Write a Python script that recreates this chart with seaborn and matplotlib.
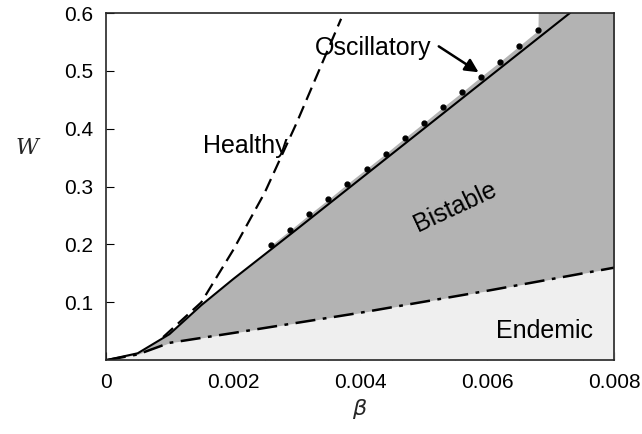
import numpy as np
import matplotlib
matplotlib.use("Agg")
import matplotlib.pyplot as plt
import seaborn as sns

solid_x = [0, 0.0005, 0.001, 0.0015, 0.002, 0.003, 0.004, 0.005, 0.006, 0.0073]
solid_y = [0, 0.012, 0.045, 0.095, 0.14, 0.226, 0.313, 0.40, 0.487, 0.60]
dot_x = [0.0026, 0.0029, 0.0032, 0.0035, 0.0038, 0.0041, 0.0044, 0.0047, 0.0050,
         0.0053, 0.0056, 0.0059, 0.0062, 0.0065, 0.0068]
dot_y = [0.199, 0.225, 0.252, 0.278, 0.305, 0.331, 0.357, 0.384, 0.410,
         0.437, 0.463, 0.490, 0.516, 0.543, 0.570]
dash_x = [0.0009, 0.0015, 0.002, 0.0025, 0.003, 0.0037]
dash_y = [0.04, 0.10, 0.19, 0.29, 0.41, 0.59]
dd_x = [0, 0.0005, 0.001, 0.002, 0.004, 0.006, 0.008]
dd_y = [0, 0.01, 0.03, 0.047, 0.082, 0.12, 0.16]

sns.set_style("ticks")
plt.rcParams["font.family"] = "Liberation Sans"
fig = plt.figure(figsize=(6.42, 4.34), dpi=100)
ax = fig.add_axes([0.165, 0.17, 0.792, 0.80])

xx = np.linspace(0, 0.008, 400)
top = np.interp(xx, solid_x, solid_y)
top = np.where(xx > 0.0073, 0.7, top)
top = np.maximum(top, np.interp(xx, dot_x, dot_y, left=0, right=0.7))
low = np.interp(xx, dd_x, dd_y)
ax.fill_between(xx, 0, low, color="#efefef", lw=0)
ax.fill_between(xx, low, top, color="#b3b3b3", lw=0)

sns.lineplot(x=solid_x, y=solid_y, ax=ax, color="black", lw=1.5, sort=False)
sns.lineplot(x=dash_x, y=dash_y, ax=ax, color="black", lw=1.6, linestyle=(0, (6, 3)), sort=False)
sns.lineplot(x=dd_x, y=dd_y, ax=ax, color="black", lw=1.8, linestyle=(0, (8, 3, 1.5, 3)), sort=False)
ax.plot(dot_x, dot_y, ls="none", marker="o", ms=3.5, color="black")

ax.set_xlim(0, 0.008)
ax.set_ylim(0, 0.6)
ax.set_xticks([0, 0.002, 0.004, 0.006, 0.008])
ax.set_xticklabels(["0", "0.002", "0.004", "0.006", "0.008"])
ax.set_yticks([0.1, 0.2, 0.3, 0.4, 0.5, 0.6])
ax.set_yticklabels(["0.1", "0.2", "0.3", "0.4", "0.5", "0.6"])
ax.tick_params(labelsize=15, direction="in", length=6, pad=9, colors="black")
ax.set_xticks(np.arange(0.0005, 0.008, 0.001), minor=True)
ax.tick_params(which="minor", direction="in", length=3)
ax.set_xlabel(r"$\beta$", fontsize=16)
ax.set_ylabel("W", fontsize=16, style="italic", family="serif", rotation=0)
ax.yaxis.set_label_coords(-0.155, 0.58)

fs = 18
ax.text(0.0042, 0.54, "Oscillatory", fontsize=fs, ha="center", va="center", color="black")
ax.text(0.0022, 0.37, "Healthy", fontsize=fs, ha="center", va="center", color="black")
ax.text(0.0055, 0.265, "Bistable", fontsize=fs, ha="center", va="center", rotation=25, color="black")
ax.text(0.0069, 0.05, "Endemic", fontsize=fs, ha="center", va="center", color="black")
ax.annotate("", xy=(0.0059, 0.495), xytext=(0.0052, 0.545),
            arrowprops=dict(arrowstyle="-|>", color="black", lw=1.8, mutation_scale=20))
for s in ax.spines.values():
    s.set_linewidth(1.2)

fig.savefig("out.png", dpi=100)
